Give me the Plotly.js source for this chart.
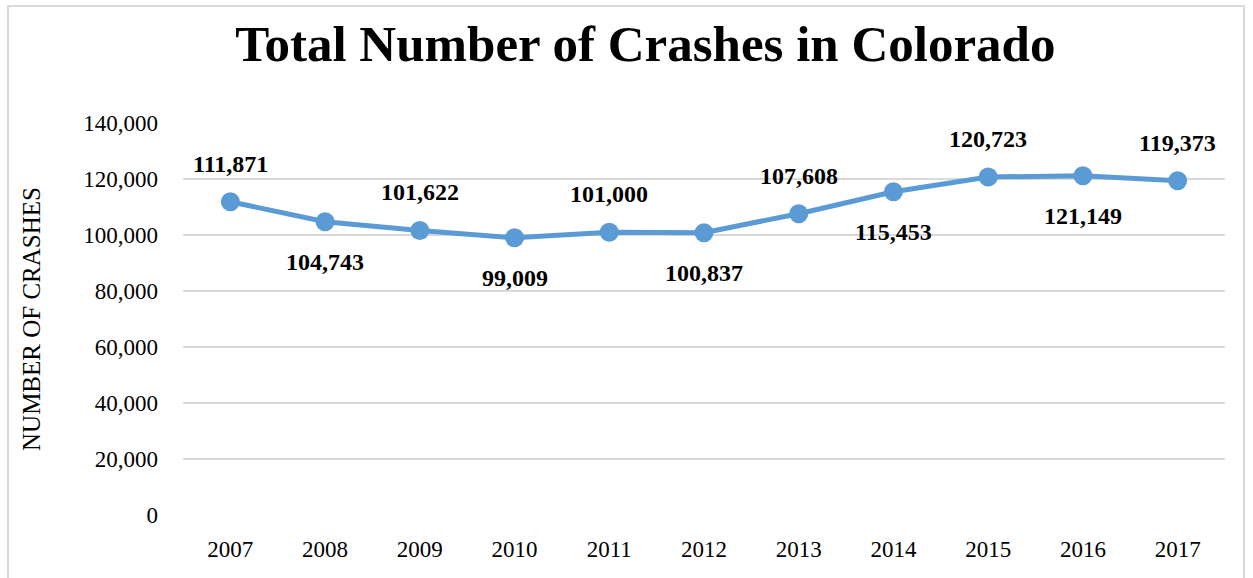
<!DOCTYPE html>
<html>
<head>
<meta charset="utf-8">
<script src="https://cdn.plot.ly/plotly-3.0.1.min.js"></script>
<style>
html,body{margin:0;padding:0;background:#fff;}
#chart{width:1253px;height:578px;}
#frame{position:absolute;left:7px;top:5px;width:1238px;height:575px;border:2px solid #d9d9d9;box-sizing:border-box;pointer-events:none;}
</style>
</head>
<body>
<div id="chart"></div>
<div id="frame"></div>
<script>
const years = ['2007','2008','2009','2010','2011','2012','2013','2014','2015','2016','2017'];
const crashes = [111871,104743,101622,99009,101000,100837,107608,115453,120723,121149,119373];
const labelSide = [1,-1,1,-1,1,-1,1,-1,1,-1,1];

const serif = 'Liberation Serif, Times New Roman, serif';

const trace = {
  x: years, y: crashes, type: 'scatter', mode: 'lines+markers',
  line: {color: '#5B9BD5', width: 5},
  marker: {color: '#5B9BD5', size: 19},
  hoverinfo: 'none'
};

function fmt(v){ return String(v).replace(/\B(?=(\d{3})+(?!\d))/g, ','); }

const annotations = years.map((yr, i) => ({
  x: i, y: crashes[i], xref: 'x', yref: 'y',
  text: '<b>' + fmt(crashes[i]) + '</b>',
  showarrow: false,
  yshift: labelSide[i] > 0 ? 38 : -40,
  font: {family: serif, size: 24, color: '#000'}
}));

const layout = {
  width: 1253, height: 578,
  margin: {l: 183, r: 28, t: 123, b: 63},
  paper_bgcolor: '#fff', plot_bgcolor: '#fff',
  showlegend: false,
  title: {text: '<b>Total Number of Crashes in Colorado</b>', x: 0.515, xanchor: 'center', y: 0.925, yanchor: 'middle',
          font: {family: serif, size: 51, color: '#000'}},
  xaxis: {type: 'category', range: [-0.5, 10.5], showgrid: false, zeroline: false, showline: false,
          ticks: '', tickfont: {family: serif, size: 23, color: '#000'}, ticklabelstandoff: 18},
  yaxis: {range: [0, 140000], dtick: 20000, tickformat: ',', showgrid: true, gridcolor: '#d9d9d9', gridwidth: 2,
          zeroline: false, showline: false, ticks: '', tickfont: {family: serif, size: 23, color: '#000'},
          ticklabelstandoff: 24,
          title: {text: 'NUMBER OF CRASHES', font: {family: serif, size: 25, color: '#000'}, standoff: 35}},
  annotations: annotations
};

Plotly.newPlot('chart', [trace], layout, {displayModeBar: false, staticPlot: true});
</script>
</body>
</html>
